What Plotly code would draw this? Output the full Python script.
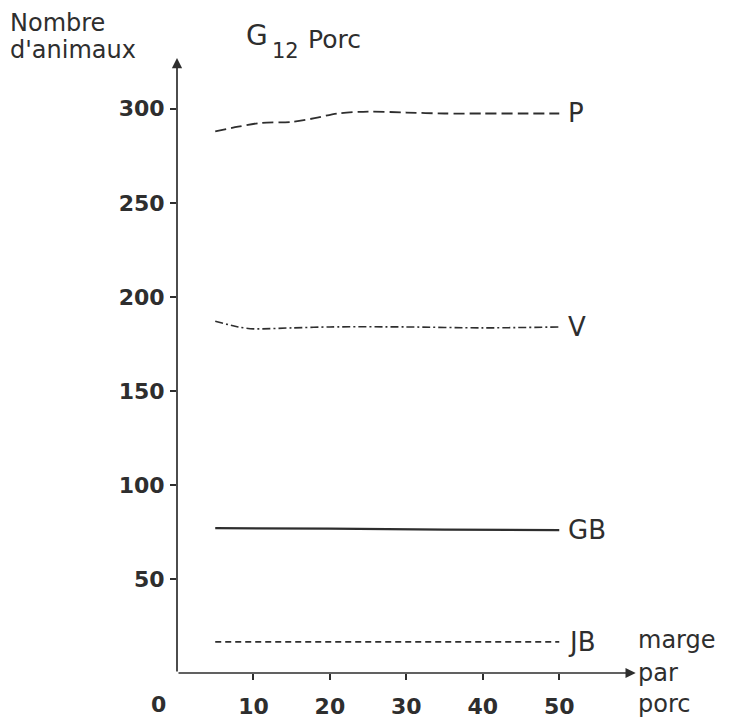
import plotly.graph_objects as go

# valeurs (marge par porc -> nombre d'animaux)
x_p = [5, 8, 11, 15, 18, 21, 25, 30, 35, 40, 45, 50]
y_p = [288, 290.5, 292.5, 293, 295, 297.5, 298.5, 298, 297.5, 297.5, 297.5, 297.5]

x_v = [5, 8, 10, 15, 20, 30, 40, 50]
y_v = [187, 184, 183, 183.5, 184, 184, 183.5, 184]

x_gb = [5, 20, 35, 50]
y_gb = [77, 76.8, 76.2, 76]

x_jb = [5, 50]
y_jb = [16.5, 16.5]

series_names = ["P", "V", "GB", "JB"]
x_ticks = [10, 20, 30, 40, 50]
y_ticks = [50, 100, 150, 200, 250, 300]

W, H = 747, 723
L, R, T, B = 169, 104, 50, 49
PW, PH = W - L - R, H - T - B

ink = "#2e2e2e"
font_main = "DejaVu Sans"


def px(xp, yp):
    # pixel position -> paper coordinates
    return (xp - L) / PW, (H - B - yp) / PH


fig = go.Figure()

styles = {
    "P": dict(dash="11px,5px", width=1.8),
    "V": dict(dash="8px,3px,2px,3px", width=1.6),
    "GB": dict(dash="solid", width=2.2),
    "JB": dict(dash="6px,4px", width=1.7),
}
data = {"P": (x_p, y_p), "V": (x_v, y_v), "GB": (x_gb, y_gb), "JB": (x_jb, y_jb)}

for name in series_names:
    xs, ys = data[name]
    fig.add_trace(go.Scatter(
        x=xs, y=ys, mode="lines", name=name,
        line=dict(color=ink, shape="spline", smoothing=0.8, **styles[name]),
        showlegend=False,
    ))
    # curve label at the right end
    fig.add_annotation(x=xs[-1], y=ys[-1], text=name, showarrow=False,
                       xanchor="left", yanchor="middle", xshift=7,
                       font=dict(family=font_main, size=26, color=ink))

# axes with arrowheads
fig.add_annotation(x=60, y=0, ax=0, ay=0, axref="x", ayref="y", xref="x", yref="y",
                   text="", showarrow=True, arrowhead=2, arrowsize=1.2,
                   arrowwidth=1.7, arrowcolor=ink)
fig.add_annotation(x=0, y=327, ax=0, ay=0, axref="x", ayref="y", xref="x", yref="y",
                   text="", showarrow=True, arrowhead=2, arrowsize=1.2,
                   arrowwidth=1.7, arrowcolor=ink)

# origin label
fig.add_annotation(x=0, y=0, text="0", showarrow=False, xshift=-19, yshift=-31,
                   xanchor="center", yanchor="middle",
                   font=dict(family=font_main, size=22, color=ink, weight="bold"))


def label(text, xp, yp, size, anchor="left", weight="normal"):
    x, y = px(xp, yp)
    fig.add_annotation(xref="paper", yref="paper", x=x, y=y, text=text,
                       showarrow=False, xanchor=anchor, yanchor="middle",
                       font=dict(family=font_main, size=size, color=ink, weight=weight))


# x axis title
label("marge", 628, 641, 24)
label("par", 628, 674, 24)
label("porc", 628, 705, 24)

# y axis title
label("Nombre", 0, 14, 24)
label("d'animaux", 0, 42, 24)

# title G12 Porc
label("G", 236, 27, 28)
label("12", 262, 43, 21)
label("Porc", 298, 31, 25)

fig.update_xaxes(range=[0, 62], tickvals=x_ticks, ticks="outside", ticklen=6,
                 tickcolor=ink, tickwidth=1.5, showgrid=False, zeroline=False,
                 showline=False, ticklabelstandoff=8,
                 tickfont=dict(family=font_main, size=22, color=ink, weight="bold"))
fig.update_yaxes(range=[0, 327], tickvals=y_ticks, ticks="outside", ticklen=6,
                 tickcolor=ink, tickwidth=1.5, showgrid=False, zeroline=False,
                 showline=False, ticklabelstandoff=1,
                 tickfont=dict(family=font_main, size=22, color=ink, weight="bold"))

fig.update_layout(
    width=W, height=H,
    margin=dict(l=L, r=R, t=T, b=B),
    plot_bgcolor="white", paper_bgcolor="white",
)

fig.write_html("out.html")
